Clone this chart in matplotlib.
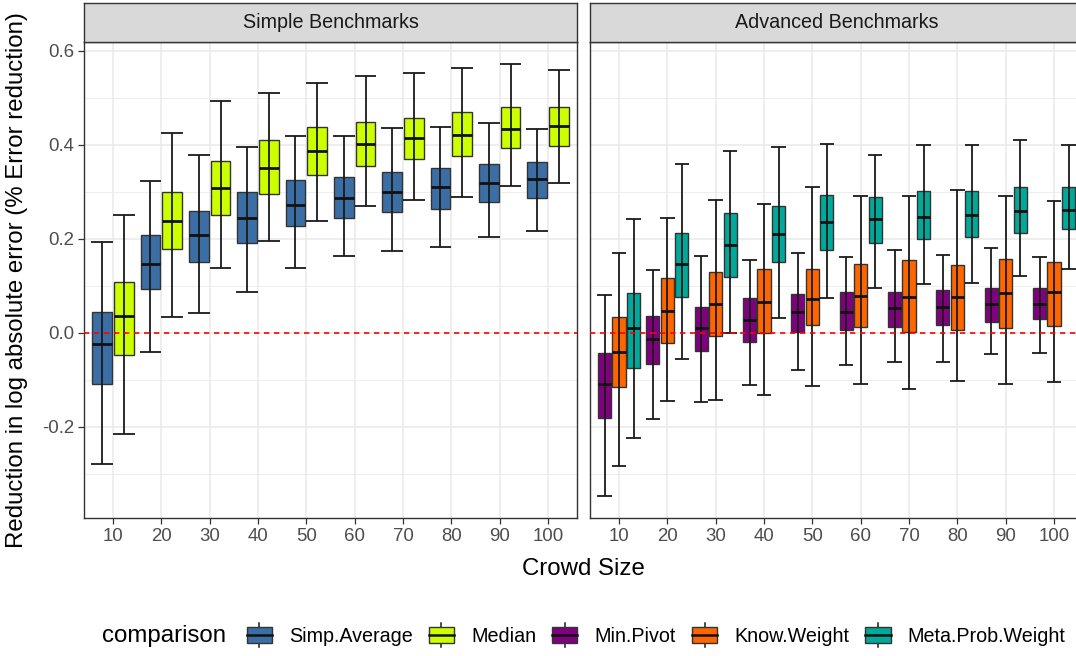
import matplotlib
matplotlib.use("Agg")
import matplotlib.pyplot as plt
from matplotlib.legend_handler import HandlerBase
from matplotlib.patches import Rectangle, Patch
from matplotlib.lines import Line2D
import numpy as np

plt.rcParams['font.family'] = ['Liberation Sans', 'DejaVu Sans']

# ---------------- data ----------------
crowd_sizes = ["10", "20", "30", "40", "50", "60", "70", "80", "90", "100"]

simple_series = ["Simp.Average", "Median"]
advanced_series = ["Min.Pivot", "Know.Weight", "Meta.Prob.Weight"]

simp_lo = [-0.279, -0.040, 0.042, 0.087, 0.139, 0.163, 0.174, 0.182, 0.205, 0.216]
simp_q1 = [-0.109, 0.093, 0.151, 0.192, 0.228, 0.244, 0.258, 0.263, 0.279, 0.286]
simp_med = [-0.024, 0.146, 0.209, 0.244, 0.273, 0.287, 0.300, 0.310, 0.319, 0.328]
simp_q3 = [0.045, 0.208, 0.260, 0.299, 0.325, 0.332, 0.343, 0.350, 0.360, 0.363]
simp_hi = [0.193, 0.323, 0.379, 0.395, 0.420, 0.418, 0.437, 0.438, 0.447, 0.434]

median_lo = [-0.216, 0.033, 0.137, 0.196, 0.237, 0.271, 0.282, 0.290, 0.313, 0.318]
median_q1 = [-0.047, 0.179, 0.251, 0.296, 0.335, 0.355, 0.371, 0.377, 0.393, 0.397]
median_med = [0.035, 0.239, 0.309, 0.350, 0.387, 0.401, 0.414, 0.422, 0.433, 0.441]
median_q3 = [0.109, 0.300, 0.366, 0.411, 0.438, 0.449, 0.457, 0.470, 0.481, 0.481]
median_hi = [0.250, 0.426, 0.493, 0.511, 0.531, 0.546, 0.553, 0.563, 0.572, 0.560]

minp_lo = [-0.348, -0.183, -0.147, -0.111, -0.079, -0.069, -0.063, -0.062, -0.044, -0.042]
minp_q1 = [-0.182, -0.066, -0.039, -0.019, 0.001, 0.007, 0.012, 0.016, 0.023, 0.030]
minp_med = [-0.109, -0.013, 0.011, 0.028, 0.045, 0.045, 0.052, 0.055, 0.061, 0.062]
minp_q3 = [-0.042, 0.035, 0.055, 0.074, 0.083, 0.087, 0.088, 0.091, 0.096, 0.096]
minp_hi = [0.080, 0.133, 0.164, 0.156, 0.170, 0.161, 0.176, 0.166, 0.180, 0.162]

know_lo = [-0.283, -0.144, -0.143, -0.133, -0.113, -0.109, -0.120, -0.103, -0.109, -0.104]
know_q1 = [-0.116, -0.021, -0.006, -0.001, 0.016, 0.013, 0.001, 0.006, 0.010, 0.015]
know_med = [-0.040, 0.046, 0.062, 0.065, 0.072, 0.079, 0.077, 0.077, 0.084, 0.086]
know_q3 = [0.033, 0.117, 0.129, 0.136, 0.136, 0.147, 0.154, 0.144, 0.158, 0.151]
know_hi = [0.171, 0.245, 0.282, 0.275, 0.311, 0.292, 0.292, 0.304, 0.291, 0.280]

meta_lo = [-0.224, -0.056, -0.001, 0.031, 0.074, 0.096, 0.104, 0.106, 0.121, 0.136]
meta_q1 = [-0.074, 0.077, 0.118, 0.150, 0.176, 0.192, 0.200, 0.205, 0.213, 0.221]
meta_med = [0.010, 0.146, 0.188, 0.211, 0.235, 0.243, 0.247, 0.251, 0.260, 0.262]
meta_q3 = [0.084, 0.212, 0.255, 0.270, 0.293, 0.289, 0.302, 0.302, 0.311, 0.311]
meta_hi = [0.243, 0.359, 0.388, 0.396, 0.402, 0.378, 0.400, 0.400, 0.411, 0.399]

y_ticks = [-0.2, 0.0, 0.2, 0.4, 0.6]
y_tick_labels = ["-0.2", "0.0", "0.2", "0.4", "0.6"]
y_minor = [-0.3, -0.1, 0.1, 0.3, 0.5]

colors = {
    "Simp.Average": "#3B6EA5",
    "Median": "#CCFF00",
    "Min.Pivot": "#800080",
    "Know.Weight": "#FF6600",
    "Meta.Prob.Weight": "#00A99A",
}

series_data = {
    "Simp.Average": (simp_lo, simp_q1, simp_med, simp_q3, simp_hi),
    "Median": (median_lo, median_q1, median_med, median_q3, median_hi),
    "Min.Pivot": (minp_lo, minp_q1, minp_med, minp_q3, minp_hi),
    "Know.Weight": (know_lo, know_q1, know_med, know_q3, know_hi),
    "Meta.Prob.Weight": (meta_lo, meta_q1, meta_med, meta_q3, meta_hi),
}

# ---------------- layout ----------------
W, H = 1076, 656
fig = plt.figure(figsize=(W / 100, H / 100), dpi=100)
fig.patch.set_facecolor("white")

panel_bottom = (H - 518) / H
panel_h = (518 - 42) / H
panel_w = 493 / W
ax_l = fig.add_axes([84 / W, panel_bottom, panel_w, panel_h])
ax_r = fig.add_axes([590 / W, panel_bottom, panel_w, panel_h])

EDGE = "#333333"
x = np.arange(1, len(crowd_sizes) + 1)


def draw_panel(ax, names):
    n = len(names)
    slot = 0.9 / n
    for i, name in enumerate(names):
        lo, q1, med, q3, hi = series_data[name]
        off = -0.45 + slot * (i + 0.5)
        pos = x + off
        stats = [dict(whislo=a, q1=b, med=c, q3=d, whishi=e, fliers=[])
                 for a, b, c, d, e in zip(lo, q1, med, q3, hi)]
        ax.bxp(stats, positions=pos, widths=slot * 0.9, patch_artist=True,
               showcaps=False, showfliers=False, manage_ticks=False,
               boxprops=dict(facecolor=colors[name], edgecolor=EDGE, linewidth=1.0),
               whiskerprops=dict(linewidth=0),
               medianprops=dict(color="#111111", linewidth=2.0, zorder=6),
               zorder=3)
        ax.vlines(pos, lo, hi, color="#1a1a1a", lw=1.3, zorder=4)
        ax.hlines(lo, pos - slot / 2, pos + slot / 2, color="#1a1a1a", lw=1.3, zorder=4)
        ax.hlines(hi, pos - slot / 2, pos + slot / 2, color="#1a1a1a", lw=1.3, zorder=4)

    ax.axhline(0, color="red", lw=1.2, dashes=(3.2, 2.8), zorder=7)
    ax.set_xlim(0.4, len(crowd_sizes) + 0.6)
    ax.set_ylim(-0.394, 0.619)
    ax.set_xticks(x)
    ax.set_xticklabels(crowd_sizes)
    ax.set_yticks(y_ticks)
    ax.set_yticks(y_minor, minor=True)
    ax.set_axisbelow(True)
    ax.grid(which="major", color="#ebebeb", lw=1.2)
    ax.grid(which="minor", axis="y", color="#ebebeb", lw=0.6)
    ax.tick_params(which="minor", length=0)
    ax.tick_params(which="major", length=4.0, width=0.9, color=EDGE,
                   labelcolor="#4d4d4d", labelsize=13.4, pad=3.0)
    for s in ax.spines.values():
        s.set_color(EDGE)
        s.set_linewidth(1.0)


draw_panel(ax_l, simple_series)
draw_panel(ax_r, advanced_series)
ax_l.set_yticklabels(y_tick_labels)
ax_r.tick_params(axis="y", which="both", left=False, labelleft=False)

# strips
strip_h = 39 / H
strip_b = (H - 42) / H
for ax_x, title in [(84, "Simple Benchmarks"), (590, "Advanced Benchmarks")]:
    sa = fig.add_axes([ax_x / W, strip_b, panel_w, strip_h])
    sa.set_facecolor("#d9d9d9")
    sa.set_xticks([])
    sa.set_yticks([])
    for s in sa.spines.values():
        s.set_color(EDGE)
        s.set_linewidth(1.0)
    sa.text(0.5, 0.5, title, transform=sa.transAxes, ha="center", va="center",
            fontsize=14.2, color="#1a1a1a")

# axis titles
fig.text(583.5 / W, (H - 575) / H, "Crowd Size", ha="center", va="baseline",
         fontsize=17.3, color="black")
fig.text(17 / W, (H - 280) / H, "Reduction in log absolute error (% Error reduction)",
         ha="center", va="center", rotation=90, fontsize=17.3, color="black")


# legend
class BoxKeyHandler(HandlerBase):
    def create_artists(self, legend, orig_handle, xdescent, ydescent, width, height,
                       fontsize, trans):
        fc = orig_handle.get_facecolor()
        x0, y0 = -xdescent, -ydescent
        stub = 3.0
        cx = x0 + width / 2
        wl = Line2D([cx, cx], [y0 - stub, y0 + height + stub], color="#1a1a1a",
                    lw=1.1, transform=trans)
        rect = Rectangle((x0, y0), width, height, facecolor=fc, edgecolor=EDGE,
                         lw=1.0, transform=trans)
        med = Line2D([x0, x0 + width], [y0 + height / 2] * 2, color="#111111",
                     lw=1.8, transform=trans)
        return [wl, rect, med]


legend_names = simple_series + advanced_series
handles = [Patch(facecolor=colors[n], edgecolor=EDGE) for n in legend_names]
fs = 14.2
fig.legend(handles, legend_names, loc="center left",
           bbox_to_anchor=(246.7 / W, 20 / H), ncol=5, frameon=False,
           handler_map={Patch: BoxKeyHandler()}, prop={"size": fs},
           handlelength=1.27, handleheight=0.86, handletextpad=0.88,
           columnspacing=0.81, borderpad=0, borderaxespad=0)
fig.text(101.7 / W, 20 / H, "comparison", ha="left", va="center", fontsize=17.3,
         color="black")

fig.savefig("out.png", dpi=100)
